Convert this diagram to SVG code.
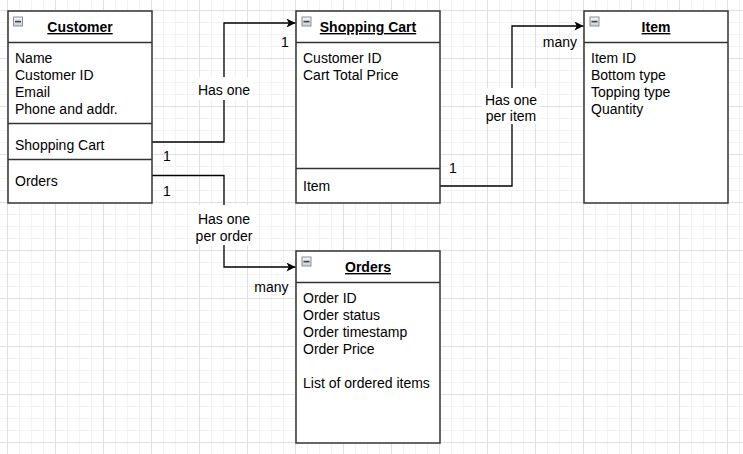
<svg xmlns="http://www.w3.org/2000/svg" width="743" height="454" viewBox="0 0 743 454">
  <style>
    .box { fill: #ffffff; stroke: #333333; stroke-width: 1.5; }
    .div { stroke: #333333; stroke-width: 1.5; fill: none; }
    .t { font-family: "Liberation Sans", Arial, sans-serif; font-size: 14px; fill: #000000; }
    .h { font-family: "Liberation Sans", Arial, sans-serif; font-size: 14px; font-weight: bold; fill: #000000; text-anchor: middle; text-decoration: underline; }
    .lbl { font-family: "Liberation Sans", Arial, sans-serif; font-size: 14px; fill: #000000; text-anchor: middle; }
    .edge { fill: none; stroke: #000000; stroke-width: 1.3; }
    .lblbg { fill: #ffffff; }
  </style>
  <defs>
    <pattern id="grid" x="7" y="10" width="48" height="48" patternUnits="userSpaceOnUse">
      <rect x="12" y="0" width="1" height="48" fill="#f3f3f3"/>
      <rect x="24" y="0" width="1" height="48" fill="#f3f3f3"/>
      <rect x="36" y="0" width="1" height="48" fill="#f3f3f3"/>
      <rect x="0" y="12" width="48" height="1" fill="#f3f3f3"/>
      <rect x="0" y="24" width="48" height="1" fill="#f3f3f3"/>
      <rect x="0" y="36" width="48" height="1" fill="#f3f3f3"/>
      <rect x="0" y="0" width="1" height="48" fill="#e0e0e0"/>
      <rect x="0" y="0" width="48" height="1" fill="#e0e0e0"/>
    </pattern>
    <linearGradient id="icong" x1="0" y1="0" x2="0" y2="1">
      <stop offset="0" stop-color="#f4f6fa"/>
      <stop offset="1" stop-color="#c9d0dc"/>
    </linearGradient>
    <g id="icon">
      <rect x="0.5" y="0.5" width="9" height="9" fill="url(#icong)" stroke="#8a8f99" stroke-width="1"/>
      <rect x="2" y="4.3" width="6" height="1.6" fill="#404040"/>
    </g>
    <marker id="arrow" viewBox="0 0 10 10" refX="10" refY="5" markerWidth="10" markerHeight="9" markerUnits="userSpaceOnUse" orient="auto">
      <path d="M0,0 L10,5 L0,10 L2.5,5 z" fill="#000000"/>
    </marker>
  </defs>

  <rect x="0" y="0" width="743" height="454" fill="#ffffff"/>
  <rect x="0" y="0" width="743" height="454" fill="url(#grid)"/>

  <g id="connectors">
    <path class="edge" d="M152,142 H224 V23 H295.5" marker-end="url(#arrow)"/>
    <path class="edge" d="M152,175.5 H224 V267 H295.5" marker-end="url(#arrow)"/>
    <path class="edge" d="M440,186 H512 V26 H583.5" marker-end="url(#arrow)"/>

    <rect class="lblbg" x="195" y="77" width="58" height="23"/>
    <text class="lbl" x="224" y="95">Has one</text>
    <text class="lbl" x="163" y="160.5" text-anchor="start" style="text-anchor:start">1</text>
    <text class="lbl" x="281" y="46.5" style="text-anchor:start">1</text>

    <rect class="lblbg" x="193" y="205" width="62" height="40"/>
    <text class="lbl" x="224" y="224">Has one</text>
    <text class="lbl" x="224" y="240.5">per order</text>
    <text class="lbl" x="163" y="196" style="text-anchor:start">1</text>
    <text class="lbl" x="288.5" y="292" style="text-anchor:end">many</text>

    <rect class="lblbg" x="482" y="88" width="58" height="36"/>
    <text class="lbl" x="511" y="104.5">Has one</text>
    <text class="lbl" x="511" y="121">per item</text>
    <text class="lbl" x="449" y="173" style="text-anchor:start">1</text>
    <text class="lbl" x="577" y="46.5" style="text-anchor:end">many</text>
  </g>

  <g id="customer">
    <rect class="box" x="8" y="11" width="144" height="192"/>
    <line class="div" x1="8" y1="42.5" x2="152" y2="42.5"/>
    <line class="div" x1="8" y1="123.5" x2="152" y2="123.5"/>
    <line class="div" x1="8" y1="159.5" x2="152" y2="159.5"/>
    <use href="#icon" x="13" y="16.5"/>
    <text class="h" x="80" y="32">Customer</text>
    <text class="t" x="15" y="63">Name</text>
    <text class="t" x="15" y="80">Customer ID</text>
    <text class="t" x="15" y="97">Email</text>
    <text class="t" x="15" y="114">Phone and addr.</text>
    <text class="t" x="15" y="150">Shopping Cart</text>
    <text class="t" x="15" y="186">Orders</text>
  </g>

  <g id="shopping-cart">
    <rect class="box" x="296" y="11" width="144" height="192"/>
    <line class="div" x1="296" y1="42.5" x2="440" y2="42.5"/>
    <line class="div" x1="296" y1="168.5" x2="440" y2="168.5"/>
    <use href="#icon" x="301.5" y="16.5"/>
    <text class="h" x="368" y="32">Shopping Cart</text>
    <text class="t" x="303" y="63">Customer ID</text>
    <text class="t" x="303" y="80">Cart Total Price</text>
    <text class="t" x="303" y="191">Item</text>
  </g>

  <g id="item">
    <rect class="box" x="584" y="11" width="144" height="192"/>
    <line class="div" x1="584" y1="42.5" x2="728" y2="42.5"/>
    <use href="#icon" x="589.5" y="16.5"/>
    <text class="h" x="656" y="32">Item</text>
    <text class="t" x="591" y="63">Item ID</text>
    <text class="t" x="591" y="80">Bottom type</text>
    <text class="t" x="591" y="97">Topping type</text>
    <text class="t" x="591" y="114">Quantity</text>
  </g>

  <g id="orders">
    <rect class="box" x="296" y="251" width="144" height="192"/>
    <line class="div" x1="296" y1="282.5" x2="440" y2="282.5"/>
    <use href="#icon" x="301.5" y="256.5"/>
    <text class="h" x="368" y="272">Orders</text>
    <text class="t" x="303" y="303">Order ID</text>
    <text class="t" x="303" y="320">Order status</text>
    <text class="t" x="303" y="337">Order timestamp</text>
    <text class="t" x="303" y="354">Order Price</text>
    <text class="t" x="303" y="388">List of ordered items</text>
  </g>
</svg>
